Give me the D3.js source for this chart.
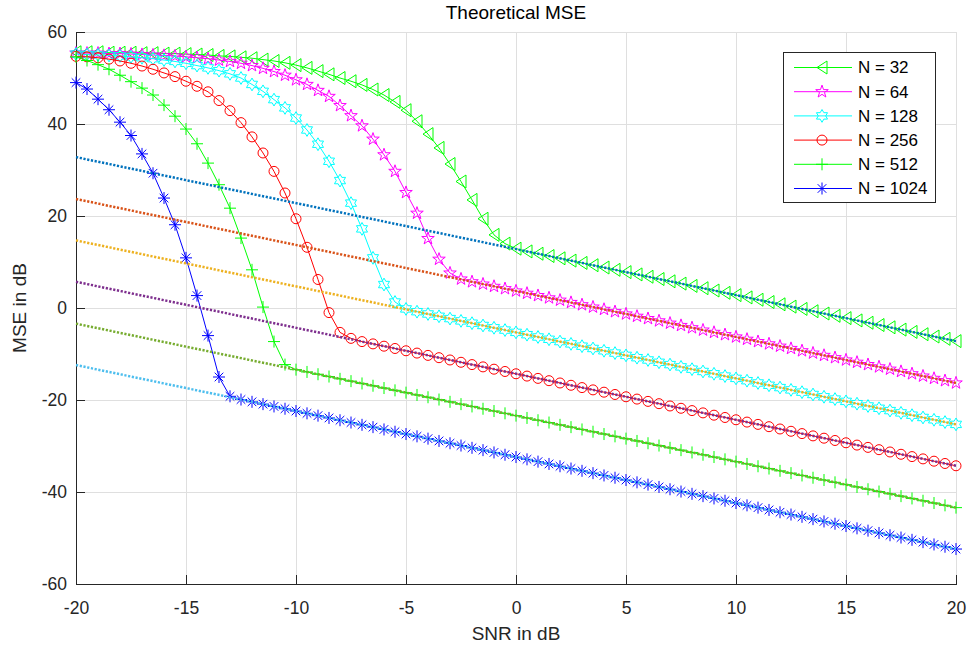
<!DOCTYPE html>
<html>
<head>
<meta charset="utf-8">
<script src="https://cdn.jsdelivr.net/npm/d3@7"></script>
<style>
body{margin:0;background:#fff;}
svg{display:block;font-family:"Liberation Sans",Arial,Helvetica,sans-serif;}
</style>
</head>
<body>
<svg id="chart" width="970" height="650"></svg>
<script>

// SNR grid, -20 : 0.5 : 20 dB
const snrDb = d3.range(-20, 20.25, 0.5);

const seriesNames = ["N = 32", "N = 64", "N = 128", "N = 256", "N = 512", "N = 1024"];

// MSE curves (dB), one value per SNR point
const mseN32 = [55.6, 55.6, 55.6, 55.5, 55.5, 55.5, 55.4, 55.4, 55.3, 55.3,
    55.2, 55.1, 55.0, 54.8, 54.7, 54.5, 54.3, 54.0, 53.7, 53.3,
    52.8, 52.2, 51.5, 50.8, 50.0, 49.3, 48.5, 47.5, 46.3, 44.8,
    43.0, 40.6, 37.8, 34.8, 31.3, 27.5, 23.5, 19.4, 15.9, 14.0,
    12.9, 12.3, 11.8, 11.3, 10.8, 10.3, 9.8, 9.3, 8.8, 8.3,
    7.8, 7.3, 6.8, 6.3, 5.8, 5.3, 4.8, 4.3, 3.8, 3.3,
    2.8, 2.3, 1.8, 1.3, 0.8, 0.3, -0.2, -0.7, -1.2, -1.7,
    -2.2, -2.7, -3.2, -3.7, -4.2, -4.7, -5.2, -5.7, -6.2, -6.7, -7.2];

const mseN64 = [55.4, 55.4, 55.4, 55.3, 55.3, 55.2, 55.1, 55.0, 54.9, 54.8,
    54.6, 54.4, 54.2, 53.9, 53.6, 53.2, 52.7, 52.1, 51.4, 50.6,
    49.6, 48.6, 47.3, 46.0, 44.0, 41.8, 39.6, 36.7, 33.3, 29.7,
    25.1, 20.6, 15.1, 10.6, 7.6, 6.3, 5.7, 5.2, 4.7, 4.2,
    3.7, 3.2, 2.7, 2.2, 1.7, 1.2, 0.7, 0.2, -0.3, -0.8,
    -1.3, -1.8, -2.3, -2.8, -3.3, -3.8, -4.3, -4.8, -5.3, -5.8,
    -6.3, -6.8, -7.3, -7.8, -8.3, -8.8, -9.3, -9.8, -10.3, -10.8,
    -11.3, -11.8, -12.3, -12.8, -13.3, -13.8, -14.3, -14.8, -15.3, -15.8, -16.3];

const mseN128 = [55.2, 55.1, 55.0, 54.9, 54.8, 54.6, 54.4, 54.2, 53.9, 53.6,
    53.2, 52.7, 52.2, 51.6, 50.9, 50.0, 48.6, 47.1, 45.3, 43.5,
    41.3, 38.7, 35.6, 31.9, 27.7, 22.8, 17.2, 10.9, 5.1, 1.3,
    -0.2, -0.8, -1.3, -1.8, -2.3, -2.8, -3.3, -3.8, -4.3, -4.8,
    -5.3, -5.8, -6.3, -6.8, -7.3, -7.8, -8.3, -8.8, -9.3, -9.8,
    -10.3, -10.8, -11.3, -11.8, -12.3, -12.8, -13.3, -13.8, -14.3, -14.8,
    -15.3, -15.8, -16.3, -16.8, -17.3, -17.8, -18.3, -18.8, -19.3, -19.8,
    -20.3, -20.8, -21.3, -21.8, -22.3, -22.8, -23.3, -23.8, -24.3, -24.8, -25.3];

const mseN256 = [54.7, 54.6, 54.4, 54.1, 53.7, 53.2, 52.6, 51.9, 51.1, 50.3,
    49.3, 48.2, 47.0, 45.1, 42.9, 40.3, 37.2, 33.7, 29.7, 25.0,
    19.4, 13.2, 6.2, -1.0, -5.3, -6.6, -7.3, -7.8, -8.3, -8.8,
    -9.3, -9.8, -10.3, -10.8, -11.3, -11.8, -12.3, -12.8, -13.3, -13.8,
    -14.3, -14.8, -15.3, -15.8, -16.3, -16.8, -17.3, -17.8, -18.3, -18.8,
    -19.3, -19.8, -20.3, -20.8, -21.3, -21.8, -22.3, -22.8, -23.3, -23.8,
    -24.3, -24.8, -25.3, -25.8, -26.3, -26.8, -27.3, -27.8, -28.3, -28.8,
    -29.3, -29.8, -30.3, -30.8, -31.3, -31.8, -32.3, -32.8, -33.3, -33.8, -34.3];

const mseN512 = [54.6, 53.8, 52.9, 51.9, 50.6, 49.2, 47.8, 46.3, 44.1, 41.7,
    38.9, 35.7, 31.5, 26.8, 21.7, 15.2, 8.3, 0.2, -7.3, -12.3,
    -13.4, -13.9, -14.4, -14.9, -15.4, -15.9, -16.4, -16.9, -17.4, -17.9,
    -18.4, -18.9, -19.4, -19.9, -20.4, -20.9, -21.4, -21.9, -22.4, -22.9,
    -23.4, -23.9, -24.4, -24.9, -25.4, -25.9, -26.4, -26.9, -27.4, -27.9,
    -28.4, -28.9, -29.4, -29.9, -30.4, -30.9, -31.4, -31.9, -32.4, -32.9,
    -33.4, -33.9, -34.4, -34.9, -35.4, -35.9, -36.4, -36.9, -37.4, -37.9,
    -38.4, -38.9, -39.4, -39.9, -40.4, -40.9, -41.4, -41.9, -42.4, -42.9, -43.4];

const mseN1024 = [49.0, 47.6, 45.4, 43.1, 40.4, 37.5, 33.5, 29.3, 23.9, 18.1,
    10.9, 2.7, -6.0, -15.0, -19.2, -19.9, -20.4, -20.9, -21.4, -21.9,
    -22.4, -22.9, -23.4, -23.9, -24.4, -24.9, -25.4, -25.9, -26.4, -26.9,
    -27.4, -27.9, -28.4, -28.9, -29.4, -29.9, -30.4, -30.9, -31.4, -31.9,
    -32.4, -32.9, -33.4, -33.9, -34.4, -34.9, -35.4, -35.9, -36.4, -36.9,
    -37.4, -37.9, -38.4, -38.9, -39.4, -39.9, -40.4, -40.9, -41.4, -41.9,
    -42.4, -42.9, -43.4, -43.9, -44.4, -44.9, -45.4, -45.9, -46.4, -46.9,
    -47.4, -47.9, -48.4, -48.9, -49.4, -49.9, -50.4, -50.9, -51.4, -51.9, -52.4];

// dotted bound lines: value at SNR = -20 and at SNR = 20
const boundSnr = [-20, 20];
const boundStart = [32.8, 23.7, 14.7, 5.7, -3.4, -12.4];
const boundEnd = [-7.2, -16.3, -25.3, -34.3, -43.4, -52.4];

const xTicks = [-20, -15, -10, -5, 0, 5, 10, 15, 20];
const yTicks = [-60, -40, -20, 0, 20, 40, 60];

const mseSeries = [mseN32, mseN64, mseN128, mseN256, mseN512, mseN1024];
const lineColors = ["#00ff00", "#ff00ff", "#00ffff", "#ff0000", "#00ff00", "#0000ff"];
const markerKinds = ["triLeft", "pentagram", "hexagram", "circle", "plus", "asterisk"];
const boundColors = ["#0072bd", "#d95319", "#edb120", "#7e2f8e", "#77ac30", "#4dbeee"];

const plotLeft = 76, plotRight = 956, plotTop = 32, plotBottom = 584;
const axisColor = "#262626";

const x = d3.scaleLinear().domain([-20, 20]).range([plotLeft, plotRight]);
const y = d3.scaleLinear().domain([-60, 60]).range([plotBottom, plotTop]);

const svg = d3.select("#chart");

mseSeries.forEach((s, i) => {
    if (s.length != snrDb.length) console.error(seriesNames[i] + " has " + s.length + " points");
});

// marker outlines, centred on 0,0
function starPath(nPoints, rOut, rIn){
    let pts = [];
    for (let k = 0; k < nPoints * 2; k++){
        let a = -Math.PI / 2 + k * Math.PI / nPoints;
        let r = (k % 2 == 0) ? rOut : rIn;
        pts.push([r * Math.cos(a), r * Math.sin(a)]);
    }
    return "M" + pts.map(p => p[0].toFixed(2) + "," + p[1].toFixed(2)).join("L") + "Z";
}

function markerPath(kind){
    if (kind == "triLeft") return "M-5,0L5,-6.5L5,6.5Z";
    if (kind == "pentagram") return starPath(5, 6.6, 2.6);
    if (kind == "hexagram") return starPath(6, 6.4, 3.7);
    if (kind == "circle") return "M5,0A5,5 0 1,1 -5,0A5,5 0 1,1 5,0Z";
    if (kind == "plus") return "M-6,0H6M0,-6V6";
    if (kind == "asterisk") return "M-6,0H6M0,-6V6M-4.3,-4.3L4.3,4.3M-4.3,4.3L4.3,-4.3";
}

// grid
const grid = svg.append("g").attr("shape-rendering", "crispEdges");
grid.selectAll(".gx").data(xTicks).enter().append("line")
    .attr("x1", d => x(d)).attr("x2", d => x(d))
    .attr("y1", plotTop).attr("y2", plotBottom)
    .attr("stroke", "#dfdfdf");
grid.selectAll(".gy").data(yTicks).enter().append("line")
    .attr("x1", plotLeft).attr("x2", plotRight)
    .attr("y1", d => y(d)).attr("y2", d => y(d))
    .attr("stroke", "#dfdfdf");

// axes (box off: only left and bottom)
const xAxis = svg.append("g")
    .attr("transform", `translate(0, ${plotBottom})`)
    .call(d3.axisBottom(x).tickValues(xTicks).tickSize(-9).tickSizeOuter(0).tickFormat(d => String(d)));
xAxis.selectAll("text").attr("y", 24).attr("dy", "0.35em");

const yAxis = svg.append("g")
    .attr("transform", `translate(${plotLeft}, 0)`)
    .call(d3.axisLeft(y).tickValues(yTicks).tickSize(-9).tickSizeOuter(0).tickPadding(9).tickFormat(d => String(d)));

[xAxis, yAxis].forEach(a => {
    a.attr("font-family", null).attr("font-size", null);
    a.selectAll("text").style("font-size", "17.5px").attr("fill", axisColor);
    a.selectAll("line").attr("stroke", axisColor);
    a.select(".domain").attr("stroke", axisColor);
    a.attr("shape-rendering", "crispEdges");
});

// curves with markers
const plot = svg.append("g");
mseSeries.forEach((vals, i) => {
    const pts = snrDb.map((s, k) => [s, vals[k]]);
    const line = d3.line().x(d => x(d[0])).y(d => y(d[1]));
    const g = plot.append("g");
    g.append("path")
        .attr("d", line(pts))
        .attr("fill", "none")
        .attr("stroke", lineColors[i])
        .attr("stroke-width", 1);
    g.selectAll(".m").data(pts).enter().append("path")
        .attr("d", markerPath(markerKinds[i]))
        .attr("transform", d => `translate(${x(d[0])}, ${y(d[1])})`)
        .attr("fill", "none")
        .attr("stroke", lineColors[i])
        .attr("stroke-width", 1);
});

// dotted bound lines on top
boundStart.forEach((b, i) => {
    plot.append("line")
        .attr("x1", x(boundSnr[0])).attr("y1", y(b))
        .attr("x2", x(boundSnr[1])).attr("y2", y(boundEnd[i]))
        .attr("stroke", boundColors[i])
        .attr("stroke-width", 2.5)
        .attr("stroke-dasharray", "2.2 1.6");
});

// legend
const lg = svg.append("g");
lg.append("rect")
    .attr("x", 783.5).attr("y", 52.5).attr("width", 152).attr("height", 150)
    .attr("fill", "#fff").attr("stroke", axisColor).attr("stroke-width", 1);
seriesNames.forEach((name, i) => {
    const ly = 67.5 + i * 24.2;
    lg.append("line")
        .attr("x1", 794).attr("x2", 852).attr("y1", ly).attr("y2", ly)
        .attr("stroke", lineColors[i]).attr("stroke-width", 1);
    lg.append("path")
        .attr("d", markerPath(markerKinds[i]))
        .attr("transform", `translate(822, ${ly})`)
        .attr("fill", "none").attr("stroke", lineColors[i]).attr("stroke-width", 1);
    lg.append("text")
        .attr("x", 858).attr("y", ly).attr("dy", "0.35em")
        .style("font-size", "17px").attr("fill", "#000")
        .text(name);
});

// title and axis labels
svg.append("text")
    .attr("x", (plotLeft + plotRight) / 2).attr("y", 19)
    .attr("text-anchor", "middle")
    .style("font-size", "19px").attr("fill", "#000")
    .text("Theoretical MSE");

svg.append("text")
    .attr("x", (plotLeft + plotRight) / 2).attr("y", 633).attr("dy", "0.35em")
    .attr("text-anchor", "middle")
    .style("font-size", "19px").attr("fill", axisColor)
    .text("SNR in dB");

svg.append("text")
    .attr("transform", `translate(19, ${(plotTop + plotBottom) / 2}) rotate(-90)`)
    .attr("dy", "0.35em")
    .attr("text-anchor", "middle")
    .style("font-size", "19px").attr("fill", axisColor)
    .text("MSE in dB");

</script>
</body>
</html>
